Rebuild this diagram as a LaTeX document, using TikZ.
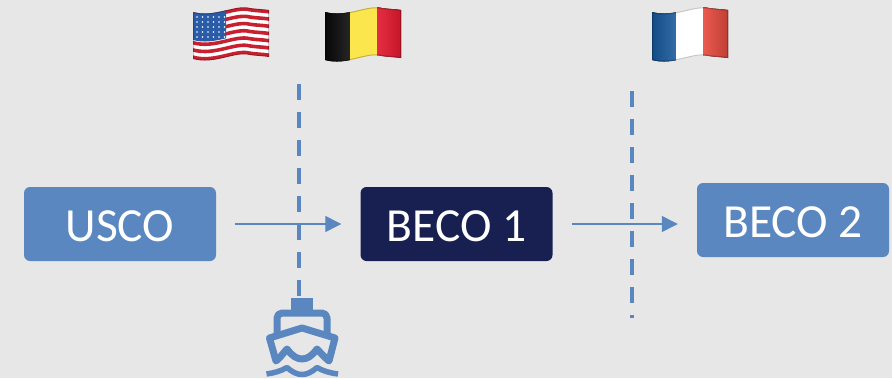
\documentclass[tikz,border=0pt]{standalone}
\usepackage{fontspec}
\setmainfont{Carlito}
\usetikzlibrary{arrows.meta}
\definecolor{bgcol}{HTML}{E7E7E7}
\definecolor{boxblue}{HTML}{5B87C0}
\definecolor{boxnavy}{HTML}{172050}
\definecolor{usred}{HTML}{C8202F}
\definecolor{usblue}{HTML}{2A5CA8}
\definecolor{beyellow}{HTML}{FBE64E}
\definecolor{bered}{HTML}{E2162C}
\definecolor{frblue}{HTML}{0F5296}
\definecolor{frred}{HTML}{E8483C}
\tikzset{
  box/.style={rectangle,rounded corners=6pt,minimum width=192pt,minimum height=74pt,
    inner sep=0pt,fill=boxblue,text=white,text height=35pt,text depth=0pt,
    font=\fontsize{47.5}{47.5}\selectfont},
  flow/.style={-{Triangle[length=16pt,width=16pt]},draw=boxblue,line width=1.3pt,
    shorten <=19pt,shorten >=19pt},
  border/.style={draw=boxblue,line width=4.5pt,dash pattern=on 16pt off 12pt},
  shipline/.style={draw=boxblue,line width=7pt,line join=round},
  flagedge/.style={draw=black,draw opacity=.22,line width=2pt}
}
% #1 left edge, #2 top, #3 bottom (flags are 76 wide)
\newcommand{\flagpath}[3]{
  (#1,#2) .. controls ({#1+22},{#2+6}) and ({#1+42},{#2-8}) .. ({#1+57},{#2-4})
  .. controls ({#1+63},{#2-3}) and ({#1+70},{#2-3}) .. ({#1+76},{#2-2})
  -- ({#1+76},{#3-2})
  .. controls ({#1+70},{#3-3}) and ({#1+63},{#3-3}) .. ({#1+57},{#3-4})
  .. controls ({#1+42},{#3-8}) and ({#1+22},{#3+6}) .. (#1,#3) -- cycle}
\begin{document}
\begin{tikzpicture}[x=1pt,y=-1pt]
  \useasboundingbox (0,0) rectangle (892,378);
  \fill[bgcol] (0,0) rectangle (892,378);

  \begin{scope}
    \clip \flagpath{193}{12}{59};
    \fill[white] (190,0) rectangle (272,70);
    \foreach \i in {0,2,...,12}
      \fill[usred] \flagpath{193}{12+\i*3.615}{12+\i*3.615+3.615};
    \begin{scope}
      \clip (190,0) rectangle (226,70);
      \fill[usblue] \flagpath{193}{12}{40};
      \foreach \sx in {197,202.5,...,225}
        \foreach \sy in {17,22,...,38}
          \fill[white] (\sx,\sy) circle (.8pt);
    \end{scope}
    \path[flagedge] \flagpath{193}{12}{59};
  \end{scope}

  \begin{scope}
    \clip \flagpath{325}{12}{60};
    \fill[left color=black,right color=black!85!white] (320,0) rectangle (350,70);
    \fill[beyellow] (350,0) rectangle (377,70);
    \fill[left color=bered!90!white,right color=bered!85!black] (377,0) rectangle (405,70);
    \path[flagedge] \flagpath{325}{12}{60};
  \end{scope}

  \begin{scope}
    \clip \flagpath{652}{12}{60};
    \fill[left color=frblue!85!black,right color=frblue!85!white] (648,0) rectangle (676,70);
    \fill[white] (676,0) rectangle (703,70);
    \fill[left color=frred!90!white,right color=frred!80!black] (703,0) rectangle (732,70);
    \path[flagedge] \flagpath{652}{12}{60};
  \end{scope}

  \node[box] (usco) at (120,224) {USCO};
  \node[box,fill=boxnavy] (beco1) at (456.5,224) {BECO 1};
  \node[box] (beco2) at (793,220) {BECO 2};

  \coordinate (ustop) at (299,84);
  \coordinate (ship) at (299,298);
  \coordinate (frtop) at (632,91);
  \coordinate (frend) at (632,318);

  \begin{scope}[border]
    \draw (ustop) to (ship);
    \draw (frtop) to (frend);
  \end{scope}

  \begin{scope}[flow]
    \draw (usco) to (beco1);
    \draw (beco1.east) to (beco1.east -| beco2.west);
  \end{scope}

  \fill[boxblue] (291,298) rectangle (313,311);
  \draw[shipline,rounded corners=5pt] (277,333) -- (277,313) -- (327,313) -- (327,333);
  \draw[shipline,fill=bgcol] (302,328) -- (269.5,338) -- (276,361)
    .. controls (281,357) and (284,352) .. (287,349)
    .. controls (292,356) and (297,359) .. (302,359)
    .. controls (307,359) and (312,356) .. (317,349)
    .. controls (320,352) and (324,357) .. (329,361)
    -- (335,338) -- cycle;
  \draw[shipline,line width=5.5pt] (266.5,374)
    .. controls (274,373) and (281,371) .. (287,367.5)
    .. controls (292,372) and (297,374.5) .. (302,374.5)
    .. controls (307,374.5) and (312,372) .. (317,367.5)
    .. controls (323,371) and (330,373) .. (338,374);
\end{tikzpicture}
\end{document}
